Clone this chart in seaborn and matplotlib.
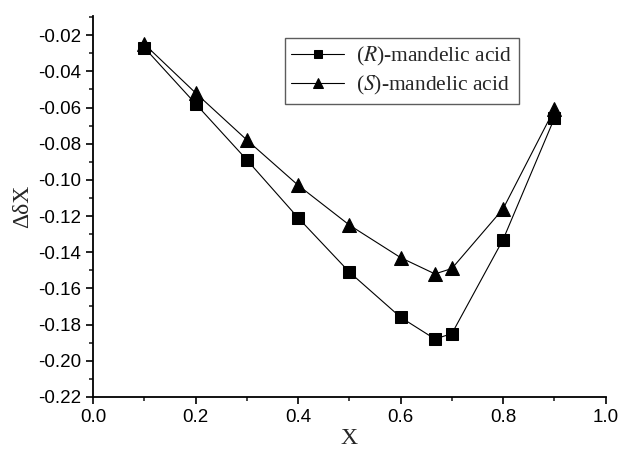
import matplotlib
matplotlib.use('Agg')
import matplotlib.pyplot as plt
import pandas as pd
import seaborn as sns
from matplotlib.ticker import MultipleLocator, FormatStrFormatter

# Data
x_frac = [0.1, 0.2, 0.3, 0.4, 0.5, 0.6, 0.667, 0.7, 0.8, 0.9]
r_acid = [-0.027, -0.058, -0.089, -0.121, -0.151, -0.176, -0.188, -0.185, -0.133, -0.066]
s_acid = [-0.025, -0.052, -0.078, -0.103, -0.125, -0.143, -0.152, -0.149, -0.116, -0.061]
labels = ['($\\it{R}$)-mandelic acid', '($\\it{S}$)-mandelic acid']

df = pd.DataFrame({'x': x_frac, 'R': r_acid, 'S': s_acid})

sns.set_style('ticks')
plt.rcParams['font.family'] = ['Liberation Sans', 'DejaVu Sans']
plt.rcParams['mathtext.fontset'] = 'stix'

fig = plt.figure(figsize=(6.23, 4.5), dpi=100)
ax = fig.add_axes([0.1497, 0.118, 0.8223, 0.846])

sns.lineplot(data=df, x='x', y='R', ax=ax, color='black', marker='s', markersize=8,
             markeredgecolor='black', linewidth=0.8, label=labels[0])
sns.lineplot(data=df, x='x', y='S', ax=ax, color='black', marker='^', markersize=10,
             markeredgecolor='black', linewidth=0.8, label=labels[1])

ax.set_xlim(0.0, 1.0)
ax.set_ylim(-0.22, -0.0095)
ax.xaxis.set_major_locator(MultipleLocator(0.2))
ax.xaxis.set_minor_locator(MultipleLocator(0.1))
ax.yaxis.set_major_locator(MultipleLocator(0.02))
ax.yaxis.set_minor_locator(MultipleLocator(0.01))
ax.xaxis.set_major_formatter(FormatStrFormatter('%.1f'))
ax.yaxis.set_major_formatter(FormatStrFormatter('%.2f'))
ax.tick_params(axis='both', which='major', direction='out', length=5, width=1.2,
               labelsize=13.5, colors='black')
ax.tick_params(axis='both', which='minor', direction='out', length=3, width=1.2)

for side in ['top', 'right']:
  ax.spines[side].set_visible(False)
for side in ['left', 'bottom']:
  ax.spines[side].set_linewidth(1.3)
  ax.spines[side].set_color('black')

ax.set_xlabel('X', family='Liberation Serif', fontsize=17, labelpad=2)
ax.set_ylabel('ΔδX', family='Liberation Serif', fontsize=17, labelpad=4)

leg = ax.legend(loc='upper left', bbox_to_anchor=(0.374, 0.942), borderaxespad=0,
                fancybox=False, frameon=True, edgecolor='#333333', handlelength=2.45,
                handletextpad=0.55, borderpad=0.3, labelspacing=0.3, markerscale=0.75,
                prop={'family': 'Liberation Serif', 'size': 15.5})
leg.get_frame().set_linewidth(1.0)

fig.savefig('out.png', dpi=100)
